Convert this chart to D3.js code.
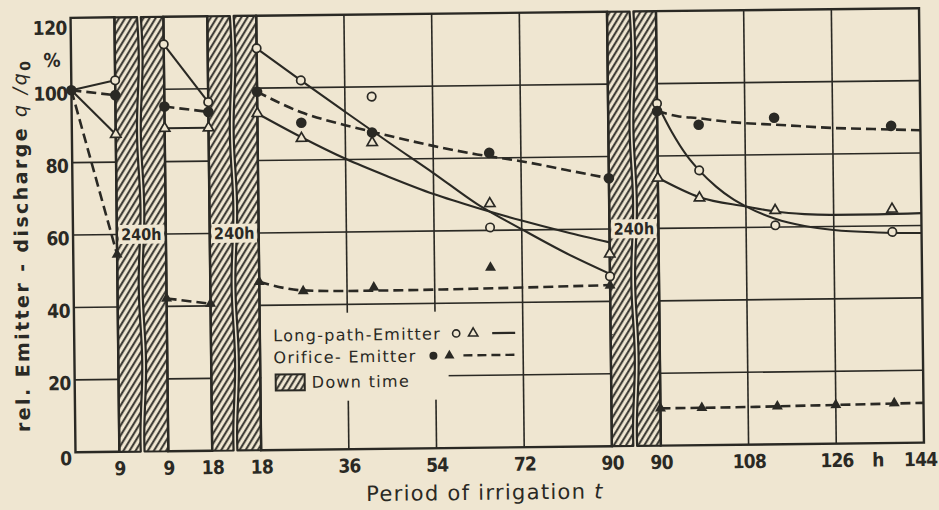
<!DOCTYPE html>
<html><head><meta charset="utf-8">
<script src="https://cdn.jsdelivr.net/npm/d3@7"></script>
<style>html,body{margin:0;padding:0;background:#efe6d1;} svg{display:block}</style>
</head><body>
<svg id="chart" width="939" height="510"></svg>
<script>
// ---------------- DATA ----------------
// irrigation periods (h) separated by 240 h down times
const segments = [[0, 9], [9, 18], [18, 90], [90, 144]];
const downTimes = ["240h", "240h", "240h"];
const yTicks = [0, 20, 40, 60, 80, 100, 120];
const xTicks = [[9], [9, 18], [18, 36, 54, 72, 90], [90, 108, 126, 144]];
const vGrid = [[], [], [36, 54, 72], [108, 126]];
const hGrid = [[20, 40, 60, 80], [20, 40, 60, 80, 100], [20, 40, 60, 80, 100], [20, 40, 60, 80, 100]];

// measured points: [segment, t (h), q/q0 (%)]
const lpCirclePts = [[0, 9, 102.6], [1, 9, 112.4], [1, 18, 96.3], [2, 18, 111], [2, 27, 102], [2, 41.5, 97.3], [2, 65.5, 60.8], [2, 90, 46.9], [3, 90, 94.5], [3, 98.5, 75.9], [3, 114, 60.5], [3, 138, 58.3]];
const lpTriPts = [[0, 9, 87.7], [1, 9, 89.2], [1, 18, 89.2], [2, 18, 93], [2, 27, 86], [2, 41.5, 84.6], [2, 65.5, 67.4], [2, 90, 53.1], [3, 90, 73.9], [3, 98.5, 68.3], [3, 114, 64.6], [3, 138, 64.6]];
const orCirclePts = [[0, 0, 100], [0, 9, 98.5], [1, 9, 95.2], [1, 18, 93.6], [2, 18, 99], [2, 27, 90.3], [2, 41.5, 87.4], [2, 65.5, 81.4], [2, 90, 74], [3, 90, 92.4], [3, 98.5, 88.5], [3, 114, 90.2], [3, 138, 87.6]];
const orTriPts = [[0, 9, 54.5], [1, 9, 42.2], [1, 18, 40.6], [2, 18, 46.5], [2, 27, 43.8], [2, 41.5, 44.6], [2, 65.5, 49.7], [2, 90, 44.4], [3, 90, 10.3], [3, 98.5, 10.3], [3, 114, 10.5], [3, 126, 10.7], [3, 138, 11]];

// drawn curves: [segment, t, value]
const lpCircleFit = [[0, 0, 100], [0, 9, 102.6], [1, 9, 112.4], [1, 18, 96.3],
  [2, 18, 111], [2, 27, 102], [2, 36, 93.2], [2, 45, 84.5], [2, 54, 76], [2, 63, 67.2], [2, 72, 60.2], [2, 81, 53.5], [2, 90, 47.6],
  [3, 90, 94.5], [3, 93, 86.5], [3, 96, 80], [3, 98.5, 75.9], [3, 102, 71.3], [3, 105, 68.2], [3, 108, 65.8], [3, 114, 62.3], [3, 120, 60.2], [3, 126, 59], [3, 135, 58.2], [3, 144, 57.9]];
const lpTriFit = [[0, 0, 100], [0, 9, 87.7], [1, 9, 89.2], [1, 18, 89.2],
  [2, 18, 93], [2, 27, 86.3], [2, 36, 80.2], [2, 45, 75], [2, 54, 70.2], [2, 63, 66.2], [2, 72, 62.6], [2, 81, 59.3], [2, 90, 56.3],
  [3, 90, 74], [3, 98.5, 68.5], [3, 108, 65.8], [3, 114, 64.3], [3, 120, 63.5], [3, 126, 63.2], [3, 135, 63.2], [3, 144, 63.4]];
const orCircleFit = [[0, 0, 100], [0, 9, 98.5], [1, 9, 95.2], [1, 18, 93.6],
  [2, 18, 99], [2, 27, 93.2], [2, 36, 89.5], [2, 41.5, 87.6], [2, 54, 83.5], [2, 63, 81], [2, 72, 79], [2, 81, 76.5], [2, 90, 74],
  [3, 90, 92.4], [3, 94, 91], [3, 98.5, 90.3], [3, 104, 89.3], [3, 108, 88.8], [3, 114, 88.3], [3, 126, 87.2], [3, 138, 86.6], [3, 144, 86.3]];
const orTriFit = [[0, 0, 100], [0, 9, 54.5], [1, 9, 42.2], [1, 18, 40.6],
  [2, 18, 46.5], [2, 27, 44], [2, 36, 43.7], [2, 54, 43.8], [2, 72, 44.1], [2, 90, 44.5],
  [3, 90, 10.3], [3, 108, 10.4], [3, 126, 10.7], [3, 144, 11]];

// ---------------- LAYOUT ----------------
const paper = "#efe6d1", ink = "#2a2924";
const left = 73, right = 921.5, gapW = 49, yBottom = 447.5, yTop = 13;
const k = (right - left - 3 * gapW) / 144;
const xs = segments.map((s, i) => d3.scaleLinear().domain(s)
  .range([left + s[0] * k + i * gapW, left + s[1] * k + i * gapW]));
const y = d3.scaleLinear().domain([0, 120]).range([yBottom, yTop]);
const X = d => xs[d[0]](d[1]);
const Y = d => y(d[2]);

const svg = d3.select("#chart");
svg.append("rect").attr("width", 939).attr("height", 510).attr("fill", paper);

const defs = svg.append("defs");
defs.append("pattern").attr("id", "hatch").attr("patternUnits", "userSpaceOnUse")
  .attr("width", 5.2).attr("height", 10).attr("patternTransform", "rotate(32)")
  .append("line").attr("x1", 1.2).attr("x2", 1.2).attr("y1", 0).attr("y2", 10)
  .attr("stroke", ink).attr("stroke-width", 1.9);

const g = svg.append("g").attr("transform", "rotate(-0.65,497,230)");

// grid
const grid = g.append("g").attr("stroke", ink).attr("stroke-width", 1.6);
hGrid.forEach((vals, i) => vals.forEach(v => grid.append("line")
  .attr("x1", xs[i].range()[0]).attr("x2", xs[i].range()[1]).attr("y1", y(v)).attr("y2", y(v))));
vGrid.forEach((vals, i) => vals.forEach(t => grid.append("line")
  .attr("x1", xs[i](t)).attr("x2", xs[i](t)).attr("y1", y(0)).attr("y2", y(120))));

// legend backdrop
g.append("rect").attr("x", xs[2].range()[0] + 1).attr("y", 311)
  .attr("width", 446 - xs[2].range()[0]).attr("height", 88).attr("fill", paper);

// panel frames
segments.forEach((s, i) => g.append("rect")
  .attr("x", xs[i].range()[0]).attr("y", y(120))
  .attr("width", xs[i].range()[1] - xs[i].range()[0]).attr("height", y(0) - y(120))
  .attr("fill", "none").attr("stroke", ink).attr("stroke-width", 2.4));

// down-time bars (hatched, broken)
const wave = (x0, yy) => x0 + 1.3 * Math.sin((yy - yTop) / 70 * Math.PI * 2 / 2.2);
downTimes.forEach((lab, i) => {
  const xa = xs[i].range()[1], xb = xs[i + 1].range()[0], mid = (xa + xb) / 2;
  const ys = d3.range(yTop, yBottom + 0.1, 4);
  const leftPts = [[xa, yBottom], [xa, yTop]].concat(ys.map(v => [wave(mid - 1.9, v), v])).concat([[wave(mid - 1.9, yBottom), yBottom]]);
  const rightPts = [[xb, yBottom], [xb, yTop]].concat(ys.map(v => [wave(mid + 1.9, v), v])).concat([[wave(mid + 1.9, yBottom), yBottom]]);
  [leftPts, rightPts].forEach(p => g.append("path")
    .attr("d", d3.line()(p) + "Z").attr("fill", "url(#hatch)")
    .attr("stroke", ink).attr("stroke-width", 2.2).attr("stroke-linejoin", "round"));
  g.append("rect").attr("x", xa + 1.8).attr("y", y(60) - 9.5).attr("width", xb - xa - 3.6).attr("height", 19).attr("fill", paper);
  g.append("text").attr("x", mid).attr("y", y(60)).attr("dy", "0.36em").attr("text-anchor", "middle")
    .attr("font-family", "DejaVu Sans Condensed, DejaVu Sans, sans-serif").attr("font-weight", "bold")
    .attr("font-size", 16).attr("fill", ink).text(lab);
});

// curves
const series = [
  {fit: lpCircleFit, dash: null},
  {fit: lpTriFit, dash: null},
  {fit: orCircleFit, dash: "10,5"},
  {fit: orTriFit, dash: "10,5"}
];
series.forEach(s => {
  d3.groups(s.fit, d => d[0]).forEach(([seg, pts]) => {
    const line = d3.line().x(X).y(Y).curve(seg >= 2 ? d3.curveMonotoneX : d3.curveLinear);
    g.append("path").attr("d", line(pts)).attr("fill", "none").attr("stroke", ink)
      .attr("stroke-width", s.dash ? 2.6 : 2.1).attr("stroke-dasharray", s.dash);
  });
});

// markers
const tri = d3.symbol(d3.symbolTriangle, 46)();
const triF = d3.symbol(d3.symbolTriangle, 52)();
g.selectAll(".lpc").data(lpCirclePts).join("circle").attr("cx", X).attr("cy", Y).attr("r", 4.2)
  .attr("fill", paper).attr("stroke", ink).attr("stroke-width", 1.7);
g.selectAll(".lpt").data(lpTriPts).join("path").attr("d", tri)
  .attr("transform", d => `translate(${X(d)},${Y(d)})`)
  .attr("fill", paper).attr("stroke", ink).attr("stroke-width", 1.7);
g.selectAll(".orc").data(orCirclePts).join("circle").attr("cx", X).attr("cy", Y).attr("r", 5.3).attr("fill", ink);
g.selectAll(".ort").data(orTriPts).join("path").attr("d", triF)
  .attr("transform", d => `translate(${X(d)},${Y(d)})`).attr("fill", ink);

// axes
const tickFont = "DejaVu Sans Condensed, DejaVu Sans, sans-serif";
const yAx = g.append("g").attr("transform", `translate(${left},0)`)
  .call(d3.axisLeft(y).tickValues(yTicks).tickSize(0).tickPadding(4));
yAx.select(".domain").remove();
yAx.selectAll("text").attr("font-family", tickFont).attr("font-weight", "bold").attr("font-size", 19)
  .attr("letter-spacing", -0.6).attr("fill", ink)
  .attr("dy", d => d === 120 ? "0.85em" : d === 0 ? "0.65em" : "0.5em");
g.append("text").attr("x", 54).attr("y", 55).attr("dy", "0.36em").attr("text-anchor", "middle")
  .attr("font-family", tickFont).attr("font-weight", "bold").attr("font-size", 19).attr("fill", ink).text("%");

xs.forEach((sc, i) => {
  const ax = g.append("g").attr("transform", `translate(0,${yBottom})`)
    .call(d3.axisBottom(sc).tickValues(xTicks[i]).tickSize(0).tickFormat(d3.format("d")));
  ax.select(".domain").remove();
  ax.selectAll("text").attr("font-family", tickFont).attr("font-weight", "bold").attr("font-size", 19)
    .attr("letter-spacing", -0.8).attr("fill", ink).attr("y", 16.5).attr("dy", "0.36em")
    .attr("dx", d => (i === segments.length - 1 && d === segments[i][1]) ? -4 : 0);
});
g.append("text").attr("x", (xs[3](126) + xs[3](144)) / 2 - 2).attr("y", yBottom + 16.5).attr("dy", "0.36em")
  .attr("text-anchor", "middle").attr("font-family", tickFont).attr("font-weight", "bold")
  .attr("font-size", 19).attr("fill", ink).text("h");

// axis titles
const xt = g.append("text").attr("x", 482).attr("y", 492).attr("dy", "0.36em").attr("text-anchor", "middle")
  .attr("font-family", "DejaVu Sans, sans-serif").attr("font-size", 21).attr("letter-spacing", 1.3).attr("fill", ink);
xt.append("tspan").text("Period  of  irrigation ");
xt.append("tspan").attr("font-style", "italic").text("t");

const yt = g.append("text").attr("transform", "translate(21,240) rotate(-90)").attr("dy", "0.36em")
  .attr("text-anchor", "middle").attr("font-family", "DejaVu Sans, sans-serif").attr("font-weight", "bold")
  .attr("font-size", 19).attr("letter-spacing", 2.4).attr("fill", ink);
yt.append("tspan").text("rel. Emitter - discharge ");
yt.append("tspan").attr("font-style", "italic").attr("font-weight", "normal").text("q /q");
yt.append("tspan").attr("font-size", 14).attr("dy", "0.3em").text("0");

// legend
const lf = "DejaVu Sans, sans-serif";
const lg = g.append("g").attr("fill", ink).attr("font-family", lf).attr("font-size", 16).attr("letter-spacing", 1.3);
lg.append("text").attr("x", 272).attr("y", 333).attr("dy", "0.36em").text("Long-path-Emitter");
lg.append("text").attr("x", 272).attr("y", 355).attr("dy", "0.36em").text("Orifice- Emitter");
lg.append("text").attr("x", 310).attr("y", 380).attr("dy", "0.36em").text("Down time");
lg.append("circle").attr("cx", 455).attr("cy", 333).attr("r", 3.6).attr("fill", paper).attr("stroke", ink).attr("stroke-width", 1.6);
lg.append("path").attr("d", d3.symbol(d3.symbolTriangle, 38)()).attr("transform", "translate(472,333)")
  .attr("fill", paper).attr("stroke", ink).attr("stroke-width", 1.6);
lg.append("line").attr("x1", 491).attr("x2", 514).attr("y1", 333).attr("y2", 333).attr("stroke", ink).attr("stroke-width", 2.2);
lg.append("circle").attr("cx", 432).attr("cy", 355).attr("r", 4).attr("fill", ink);
lg.append("path").attr("d", d3.symbol(d3.symbolTriangle, 44)()).attr("transform", "translate(448,355)").attr("fill", ink);
lg.append("line").attr("x1", 462).attr("x2", 514).attr("y1", 355).attr("y2", 355).attr("stroke", ink)
  .attr("stroke-width", 2.4).attr("stroke-dasharray", "9,5");
lg.append("rect").attr("x", 274).attr("y", 372).attr("width", 29).attr("height", 16)
  .attr("fill", "url(#hatch)").attr("stroke", ink).attr("stroke-width", 2);
</script>
</body></html>
